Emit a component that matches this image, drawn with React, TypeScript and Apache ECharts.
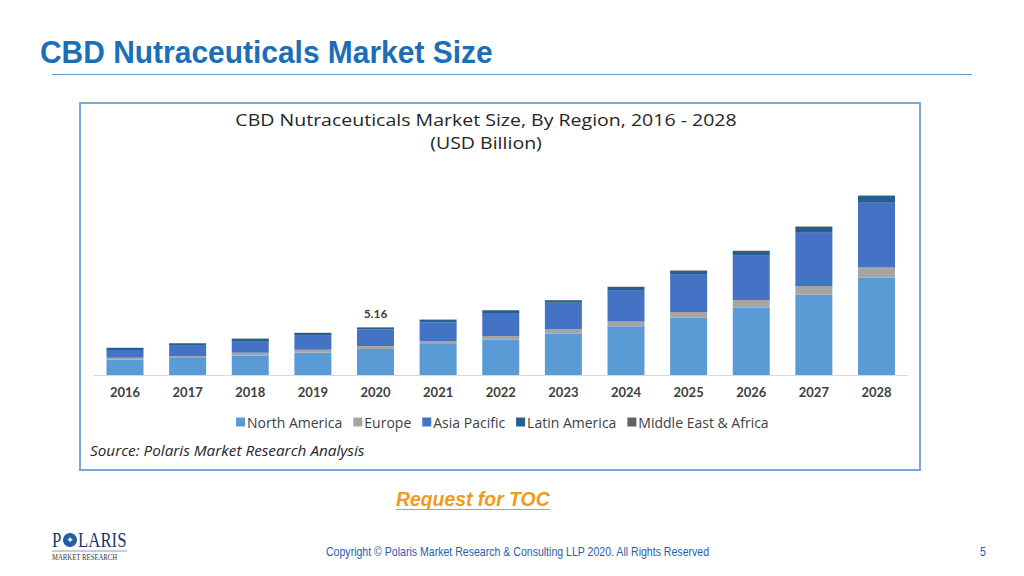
import React, { useEffect, useRef } from "react";
import * as echarts from "echarts";

const years = ["2016", "2017", "2018", "2019", "2020", "2021", "2022", "2023", "2024", "2025", "2026", "2027", "2028"];
const northAmerica = [1.66, 1.84, 2.09, 2.41, 2.81, 3.35, 3.82, 4.47, 5.27, 6.2, 7.28, 8.69, 10.53];
const europe = [0.22, 0.22, 0.32, 0.32, 0.32, 0.32, 0.4, 0.51, 0.51, 0.62, 0.83, 0.94, 1.11];
const asiaPacific = [0.83, 1.11, 1.27, 1.52, 1.79, 2.02, 2.49, 2.85, 3.35, 4.04, 4.79, 5.77, 7.0];
const latinAmerica = [0.22, 0.26, 0.25, 0.29, 0.22, 0.29, 0.29, 0.25, 0.4, 0.4, 0.51, 0.62, 0.73];
const middleEastAfrica = [0.01, 0.01, 0.01, 0.02, 0.02, 0.02, 0.02, 0.03, 0.03, 0.04, 0.04, 0.05, 0.06];
const labelledYear = "2020";

const seriesNames = ["North America", "Europe", "Asia Pacific", "Latin America", "Middle East & Africa"];
const seriesColors = ["#5B9BD5", "#A5A5A5", "#4472C4", "#255E91", "#636363"];

const chartFont = "'Open Sans', Lato, sans-serif";

export default function App() {
  const ref = useRef<HTMLDivElement>(null);

  useEffect(() => {
    if (!ref.current) return;
    const chart = echarts.init(ref.current, undefined, { renderer: "svg" });
    const dataSets = [northAmerica, europe, asiaPacific, latinAmerica, middleEastAfrica];
    const totals = years.map((_, i) => dataSets.reduce((s, d) => s + d[i], 0));

    const series = dataSets.map((d, si) => ({
      name: seriesNames[si],
      type: "bar",
      stack: "total",
      barWidth: 37,
      data: d.map((v, i) =>
        si === dataSets.length - 1 && years[i] === labelledYear
          ? {
              value: v,
              label: {
                show: true,
                position: "top",
                distance: 8,
                formatter: () => totals[i].toFixed(2),
                color: "#404040",
                fontSize: 12,
                fontWeight: "bold",
                fontFamily: "Lato, sans-serif",
              },
            }
          : v
      ),
      itemStyle: { color: seriesColors[si] },
      emphasis: { disabled: true },
    }));

    chart.setOption({
      animation: false,
      textStyle: { fontFamily: chartFont },
      grid: { left: 93.7, right: 116.2, top: 190.2, bottom: 201, containLabel: false },
      legend: {
        data: seriesNames,
        left: 231,
        top: 410,
        itemWidth: 9,
        itemHeight: 9,
        itemGap: 11,
        icon: "rect",
        textStyle: { fontSize: 14, color: "#404040", fontFamily: chartFont, padding: [0, 0, 0, -3] },
        selectedMode: false,
      },
      xAxis: {
        type: "category",
        data: years,
        axisLine: { lineStyle: { color: "#D9D9D9", width: 1 } },
        axisTick: { show: false },
        axisLabel: { color: "#404040", fontSize: 13, fontWeight: "bold", margin: 10, fontFamily: "Lato, sans-serif" },
      },
      yAxis: { type: "value", min: 0, max: 20, show: false, splitLine: { show: false } },
      series,
      graphic: [
        {
          type: "text",
          x: 40,
          y: 52,
          scaleX: 0.936,
          style: {
            text: "CBD Nutraceuticals Market Size",
            fill: "#1A6FB8",
            font: "bold 32px 'Liberation Sans', Arial, sans-serif",
            textVerticalAlign: "middle",
          },
        },
        {
          type: "line",
          shape: { x1: 52, y1: 74.5, x2: 972, y2: 74.5 },
          style: { stroke: "#5B9BD5", lineWidth: 1 },
        },
        {
          type: "rect",
          shape: { x: 80, y: 103, width: 840, height: 367 },
          style: { fill: "none", stroke: "#7BA7D7", lineWidth: 2 },
          z: -1,
        },
        {
          type: "text",
          x: 486,
          y: 119,
          scaleX: 1.149,
          style: {
            text: "CBD Nutraceuticals Market Size, By Region, 2016 - 2028",
            fill: "#262626",
            font: "17px 'Open Sans', Lato, sans-serif",
            textAlign: "center",
            textVerticalAlign: "middle",
          },
        },
        {
          type: "text",
          x: 486,
          y: 142.5,
          scaleX: 1.149,
          style: {
            text: "(USD Billion)",
            fill: "#262626",
            font: "17px 'Open Sans', Lato, sans-serif",
            textAlign: "center",
            textVerticalAlign: "middle",
          },
        },
        {
          type: "text",
          x: 90,
          y: 450,
          style: {
            text: "Source: Polaris Market Research Analysis",
            fill: "#262626",
            font: "italic 15.3px 'Open Sans', Lato, sans-serif",
            textVerticalAlign: "middle",
          },
        },
        {
          type: "text",
          x: 396,
          y: 499,
          scaleX: 0.97,
          style: {
            text: "Request for TOC",
            fill: "#EE9B1B",
            font: "italic bold 20px 'Liberation Sans', Arial, sans-serif",
            textVerticalAlign: "middle",
          },
        },
        {
          type: "line",
          shape: { x1: 396, y1: 509.5, x2: 550, y2: 509.5 },
          style: { stroke: "#EE9B1B", lineWidth: 1.2 },
        },
        {
          type: "text",
          x: 326,
          y: 552,
          scaleX: 0.88,
          style: {
            text: "Copyright © Polaris Market Research & Consulting LLP 2020. All Rights Reserved",
            fill: "#2A5CAA",
            font: "12px 'Liberation Sans', Arial, sans-serif",
            textVerticalAlign: "middle",
          },
        },
        {
          type: "text",
          x: 980,
          y: 552,
          scaleX: 0.88,
          style: {
            text: "5",
            fill: "#2A5CAA",
            font: "12px 'Liberation Sans', Arial, sans-serif",
            textVerticalAlign: "middle",
          },
        },
        {
          type: "text",
          x: 52,
          y: 540,
          scaleX: 0.8,
          style: {
            text: "P",
            fill: "#1B3A6B",
            font: "21px 'Liberation Serif', 'DejaVu Serif', serif",
            textVerticalAlign: "middle",
          },
        },
        {
          type: "circle",
          shape: { cx: 70, cy: 540, r: 7 },
          style: { fill: "#1F5FA8" },
        },
        {
          type: "text",
          x: 70,
          y: 540,
          style: {
            text: "✦",
            fill: "#FFFFFF",
            font: "9px 'DejaVu Sans', sans-serif",
            textAlign: "center",
            textVerticalAlign: "middle",
          },
        },
        {
          type: "text",
          x: 78,
          y: 540,
          scaleX: 0.8,
          style: {
            text: "LARIS",
            fill: "#1B3A6B",
            font: "21px 'Liberation Serif', 'DejaVu Serif', serif",
            textVerticalAlign: "middle",
          },
        },
        {
          type: "line",
          shape: { x1: 52, y1: 551, x2: 127, y2: 551 },
          style: { stroke: "#8A9AB5", lineWidth: 1 },
        },
        {
          type: "text",
          x: 52,
          y: 557.5,
          scaleX: 0.9,
          style: {
            text: "MARKET RESEARCH",
            fill: "#333333",
            font: "7.5px 'Liberation Serif', 'DejaVu Serif', serif",
            textVerticalAlign: "middle",
          },
        },
      ],
    });
    return () => chart.dispose();
  }, []);

  return (
    <div
      ref={ref}
      style={{ position: "fixed", left: 0, top: 0, width: 1024, height: 576, background: "#FFFFFF" }}
    />
  );
}
